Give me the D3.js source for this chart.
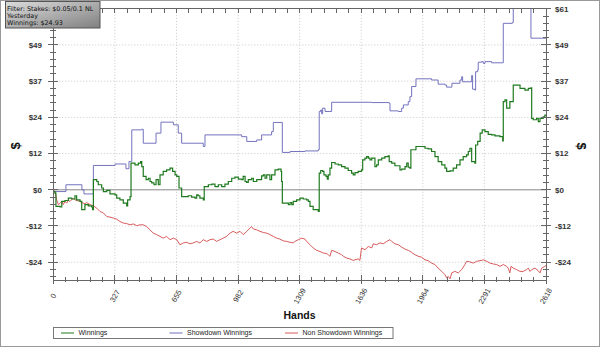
<!DOCTYPE html>
<html><head><meta charset="utf-8">
<script src="https://cdn.jsdelivr.net/npm/d3@7/dist/d3.min.js"></script>
<style>html,body{margin:0;padding:0;background:#fff;}svg{display:block;}</style>
</head><body>
<svg id="c" width="600" height="347"></svg>
<script>
// ---- data: [hand, $] ----
const winnings = [[0,-0.6],[9,-1.1],[14,-5.6],[36,-5.8],[45,-3.9],[62,-3.6],[80,-2.8],[98,-3.1],[115,-2.0],[124,-3.4],[142,-3.9],[151,-6.7],[168,-5.0],[186,-5.4],[204,-5.8],[209,-6.7],[213,3.4],[231,2.8],[239,1.7],[257,0.6],[266,-0.6],[284,-0.2],[301,-1.4],[328,-1.7],[337,-2.8],[354,-3.4],[372,-4.5],[390,-5.4],[395,-3.4],[408,-2.3],[413,9.0],[434,8.4],[452,9.0],[464,9.5],[470,7.8],[478,4.5],[493,3.4],[505,3.9],[514,2.8],[523,2.3],[535,1.7],[546,3.4],[558,1.7],[567,5.0],[584,6.2],[602,6.7],[620,7.3],[634,6.2],[647,5.0],[656,4.5],[668,0.6],[682,-2.3],[717,-2.0],[735,-2.5],[753,-2.8],[762,-1.7],[770,-2.0],[779,-2.8],[797,-3.4],[802,1.1],[824,1.7],[842,1.9],[859,1.1],[877,1.7],[895,1.1],[912,1.9],[930,2.8],[948,3.9],[965,4.3],[983,3.6],[1001,3.4],[1009,4.5],[1019,2.8],[1027,2.5],[1036,3.4],[1054,3.9],[1063,2.8],[1081,3.4],[1098,3.4],[1107,4.7],[1116,5.0],[1125,3.9],[1134,5.0],[1151,3.4],[1160,5.0],[1178,6.7],[1195,7.0],[1210,6.2],[1213,2.8],[1217,-4.5],[1231,-4.5],[1249,-5.0],[1258,-4.3],[1267,-5.0],[1275,-3.9],[1293,-3.4],[1311,-2.8],[1328,-3.1],[1346,-3.4],[1355,-3.9],[1364,-5.6],[1381,-6.7],[1408,-7.3],[1413,5.6],[1421,6.5],[1431,6.2],[1438,5.0],[1449,4.5],[1456,3.6],[1461,5.0],[1470,7.3],[1479,9.2],[1497,8.7],[1514,8.4],[1532,7.8],[1550,7.3],[1567,6.5],[1585,5.6],[1594,5.0],[1603,5.8],[1620,6.2],[1638,6.7],[1644,10.1],[1656,10.7],[1665,11.2],[1674,10.7],[1683,10.1],[1692,10.7],[1709,7.8],[1718,8.4],[1727,10.1],[1745,10.7],[1762,11.2],[1780,11.4],[1785,9.5],[1798,9.0],[1815,8.1],[1842,6.7],[1851,7.0],[1869,7.8],[1878,9.0],[1886,7.6],[1895,7.3],[1900,13.5],[1927,14.6],[1957,14.6],[1975,14.0],[1992,13.8],[2010,12.9],[2028,11.2],[2045,9.5],[2064,8.4],[2081,7.3],[2090,6.2],[2108,6.4],[2125,7.3],[2143,8.4],[2161,10.1],[2178,11.2],[2196,11.8],[2205,12.9],[2214,14.0],[2223,9.5],[2240,9.0],[2244,15.1],[2255,16.3],[2268,19.1],[2279,20.2],[2294,19.6],[2311,18.7],[2329,18.5],[2347,18.2],[2373,17.9],[2388,16.5],[2391,29.7],[2400,30.3],[2409,27.5],[2421,27.5],[2426,29.7],[2444,35.3],[2462,35.3],[2480,34.2],[2506,33.6],[2524,34.2],[2538,34.4],[2542,24.1],[2550,23.6],[2568,24.1],[2577,23.0],[2586,24.1],[2603,24.6],[2612,25.2],[2618,24.93]];
const showdownWinnings = [[0,-0.6],[67,1.7],[152,0],[163,-1.4],[213,8.2],[328,8.7],[386,7.1],[402,9.5],[417,20.2],[470,20.4],[478,15.7],[546,19.1],[572,22.8],[638,21.9],[664,19.1],[682,15.7],[797,14.6],[806,18.5],[1001,17.9],[1028,16.3],[1081,16.8],[1107,18.5],[1160,19.6],[1169,22.7],[1217,12.6],[1258,12.9],[1337,13.1],[1408,13.5],[1413,26.4],[1421,26.9],[1426,25.6],[1431,27.5],[1444,26.4],[1479,29.5],[1692,29.4],[1784,29.2],[1789,26.6],[1833,26.4],[1851,27.5],[1860,28.6],[1886,29.7],[1895,31.4],[1904,34.8],[1927,37.4],[2010,37.0],[2045,35.6],[2081,35.3],[2090,34.6],[2118,35.9],[2161,37.0],[2170,38.1],[2175,36.4],[2214,36.4],[2223,38.5],[2228,33.9],[2240,33.6],[2244,39.8],[2255,40.4],[2258,43.0],[2276,43.2],[2285,42.6],[2294,43.2],[2329,42.8],[2388,42.8],[2391,56.1],[2439,56.4],[2444,64.0],[2538,51.1],[2618,51.1]];
const nonShowdownWinnings = [[0,0],[9,-0.6],[18,-3.4],[27,-5.0],[36,-4.5],[45,-3.9],[53,-5.0],[62,-3.9],[71,-4.5],[80,-3.6],[89,-3.9],[106,-2.8],[115,-3.4],[124,-3.6],[142,-3.9],[151,-4.3],[168,-4.7],[177,-4.3],[195,-5.0],[213,-5.4],[231,-6.2],[248,-7.3],[266,-7.8],[284,-9.0],[301,-9.2],[319,-9.5],[337,-9.9],[354,-10.7],[372,-11.2],[390,-11.4],[408,-11.8],[425,-11.5],[443,-12.1],[461,-11.8],[478,-11.8],[496,-12.4],[514,-13.5],[531,-14.6],[549,-15.1],[567,-15.7],[584,-16.3],[602,-15.7],[620,-16.8],[638,-16.3],[656,-16.8],[673,-18.5],[691,-17.9],[709,-17.7],[726,-18.2],[744,-17.9],[762,-17.4],[779,-17.9],[797,-16.8],[815,-17.4],[833,-16.8],[850,-16.6],[868,-17.4],[886,-16.8],[903,-16.3],[921,-15.7],[939,-14.6],[956,-14.0],[974,-14.6],[992,-14.0],[1009,-15.1],[1028,-14.0],[1045,-12.9],[1054,-12.4],[1063,-13.2],[1081,-13.5],[1098,-14.0],[1116,-14.4],[1134,-14.6],[1151,-15.1],[1169,-15.7],[1187,-16.3],[1204,-16.6],[1222,-17.2],[1240,-17.4],[1258,-17.7],[1275,-17.9],[1284,-17.4],[1302,-16.8],[1320,-16.3],[1337,-16.6],[1346,-17.4],[1364,-18.5],[1381,-19.6],[1399,-20.4],[1417,-20.8],[1435,-21.3],[1453,-21.5],[1461,-21.9],[1470,-22.4],[1479,-20.4],[1497,-20.8],[1514,-21.3],[1532,-21.9],[1541,-22.4],[1559,-23.0],[1576,-23.3],[1594,-23.8],[1603,-23.6],[1620,-23.3],[1629,-23.8],[1638,-19.6],[1656,-20.2],[1674,-19.1],[1692,-19.6],[1700,-18.2],[1718,-18.5],[1736,-17.9],[1753,-18.2],[1771,-17.4],[1789,-16.8],[1798,-17.4],[1815,-18.2],[1833,-18.5],[1851,-19.3],[1869,-20.0],[1886,-20.4],[1904,-21.1],[1922,-21.9],[1939,-22.4],[1957,-22.7],[1975,-23.6],[1992,-23.9],[2010,-24.7],[2028,-25.2],[2045,-26.4],[2064,-27.5],[2081,-28.6],[2090,-29.7],[2099,-29.2],[2108,-30.0],[2117,-28.0],[2134,-27.5],[2152,-28.0],[2170,-26.9],[2187,-25.2],[2196,-24.1],[2214,-24.3],[2232,-24.7],[2249,-24.1],[2267,-23.9],[2285,-23.6],[2303,-24.1],[2320,-24.7],[2338,-25.0],[2356,-25.2],[2373,-25.8],[2391,-25.2],[2409,-25.8],[2417,-26.4],[2426,-28.0],[2432,-25.8],[2444,-26.4],[2462,-26.9],[2480,-27.5],[2497,-27.5],[2515,-26.9],[2524,-26.4],[2533,-27.5],[2542,-26.9],[2560,-26.4],[2577,-27.3],[2586,-28.0],[2595,-26.4],[2612,-25.8],[2618,-25.5]];

const xTickValues = [0, 327.25, 654.5, 981.75, 1309, 1636.25, 1963.5, 2290.75, 2618];
const xTickLabels = ["0","327","655","982","1309","1636","1964","2291","2618"];
const yTickValues = [-24.4, -12.2, 0, 12.2, 24.4, 36.6, 48.8, 61];
const yTickLabels = ["-$24","-$12","$0","$12","$24","$37","$49","$61"];
const seriesNames = ["Winnings","Showdown Winnings","Non Showdown Winnings"];
const seriesColors = ["#1f7a1f","#7373bf","#d95b5b"];
const infoLines = ["Filter: Stakes: $0.05/0.1 NL","Yesterday","Winnings: $24.93"];

// ---- layout ----
const svg = d3.select("#c");
const L = 53.3, R = 546, T = 8.8, B = 280;
const x = d3.scaleLinear().domain([0, 2618]).range([L, R]);
const y = d3.scaleLinear().domain([-30.4, 61]).range([B, T]);
const axisCol = "#666";
const font = "'Liberation Sans', Arial, sans-serif";

// outer frame
svg.append("rect").attr("x",0.5).attr("y",0.5).attr("width",599).attr("height",346)
  .attr("fill","#fff").attr("stroke","#999");

// grid
const g = svg.append("g");
g.selectAll(".vg").data(xTickValues.slice(1,-1)).join("line")
  .attr("x1",d=>x(d)).attr("x2",d=>x(d)).attr("y1",T).attr("y2",B)
  .attr("stroke","#c8c8c8").attr("stroke-dasharray","1,2");
g.selectAll(".hg").data(yTickValues.filter(v=>v!==0 && v!==61)).join("line")
  .attr("x1",L).attr("x2",R).attr("y1",d=>y(d)).attr("y2",d=>y(d))
  .attr("stroke","#c8c8c8").attr("stroke-dasharray","1,2");
g.append("line").attr("x1",L).attr("x2",R).attr("y1",y(0)).attr("y2",y(0))
  .attr("stroke","#888").attr("stroke-width",1);

// clip
svg.append("clipPath").attr("id","pc").append("rect")
  .attr("x",L).attr("y",T).attr("width",R-L).attr("height",B-T);

const stepLine = d3.line().x(d=>x(d[0])).y(d=>y(d[1])).curve(d3.curveStepAfter);
const linLine = d3.line().x(d=>x(d[0])).y(d=>y(d[1])).curve(d3.curveLinear);
const lg = svg.append("g").attr("clip-path","url(#pc)");
lg.append("path").datum(nonShowdownWinnings).attr("d",linLine).attr("fill","none")
  .attr("stroke",seriesColors[2]).attr("stroke-width",1);
lg.append("path").datum(showdownWinnings).attr("d",stepLine).attr("fill","none")
  .attr("stroke",seriesColors[1]).attr("stroke-width",1);
lg.append("path").datum(winnings).attr("d",stepLine).attr("fill","none")
  .attr("stroke",seriesColors[0]).attr("stroke-width",1.2);

// axes frame lines
const ax = svg.append("g").attr("stroke",axisCol).attr("stroke-width",1).attr("shape-rendering","crispEdges");
ax.append("line").attr("x1",L).attr("x2",L).attr("y1",T).attr("y2",B);
ax.append("line").attr("x1",R).attr("x2",R).attr("y1",T).attr("y2",B);
ax.append("line").attr("x1",L).attr("x2",R).attr("y1",B).attr("y2",B);
ax.append("line").attr("x1",L).attr("x2",R).attr("y1",T).attr("y2",T);

// minor ticks
const xMinor = d3.range(0, 41).map(i => i * 2618 / 40);
const yMinor = d3.range(-12, 26).map(i => i * 2.44);
ax.selectAll(".xb").data(xMinor).join("line")
  .attr("x1",d=>x(d)).attr("x2",d=>x(d)).attr("y1",(d,i)=>i%5===0?B-5:B-3).attr("y2",(d,i)=>i%5===0?B+4:B+2);
ax.selectAll(".xt").data(xMinor).join("line")
  .attr("x1",d=>x(d)).attr("x2",d=>x(d)).attr("y1",T).attr("y2",T+4);
ax.selectAll(".yl").data(yMinor).join("line")
  .attr("y1",d=>y(d)).attr("y2",d=>y(d)).attr("x1",(d,i)=>(i%5===2)?L-5:L-3).attr("x2",(d,i)=>(i%5===2)?L+5:L+3);
ax.selectAll(".yr").data(yMinor).join("line")
  .attr("y1",d=>y(d)).attr("y2",d=>y(d)).attr("x1",(d,i)=>(i%5===2)?R-5:R-3).attr("x2",(d,i)=>(i%5===2)?R+5:R+3);

// y labels (left side: top label hidden behind info box in reference)
svg.selectAll(".ylab").data(yTickValues.slice(0,-1)).join("text")
  .attr("x",42).attr("y",d=>y(d)).attr("dy","0.35em").attr("text-anchor","end")
  .attr("font-family",font).attr("font-size",8).attr("font-weight","bold").attr("fill","#333")
  .text((d,i)=>yTickLabels[i]);
svg.selectAll(".yrlab").data(yTickValues).join("text")
  .attr("x",555).attr("y",d=>y(d)).attr("dy","0.35em").attr("text-anchor","start")
  .attr("font-family",font).attr("font-size",8).attr("font-weight","bold").attr("fill","#333")
  .text((d,i)=>yTickLabels[i]);

// x labels
svg.selectAll(".xlab").data(xTickValues).join("text")
  .attr("transform",d=>`translate(${x(d)},296) rotate(-60)`)
  .attr("dy","0.35em").attr("text-anchor","middle")
  .attr("font-family",font).attr("font-size",7.5).attr("fill","#333")
  .text((d,i)=>xTickLabels[i]);

// axis titles
svg.append("text").attr("transform","translate(15,146) rotate(-90)").attr("text-anchor","middle")
  .attr("dy","0.35em").attr("font-family",font).attr("font-size",13).attr("font-weight","bold").attr("fill","#111").text("$");
svg.append("text").attr("transform","translate(582,146) rotate(90)").attr("text-anchor","middle")
  .attr("dy","0.35em").attr("font-family",font).attr("font-size",13).attr("font-weight","bold").attr("fill","#111").text("$");
svg.append("text").attr("x",299.5).attr("y",319).attr("text-anchor","middle")
  .attr("font-family",font).attr("font-size",10.5).attr("font-weight","bold").attr("fill","#111").text("Hands");

// legend
const leg = svg.append("g");
leg.append("rect").attr("x",53.5).attr("y",327.5).attr("width",339.5).attr("height",11)
  .attr("fill","#fff").attr("stroke","#777");
const legX = [61, 169.5, 285];
seriesNames.forEach((n,i)=>{
  leg.append("line").attr("x1",legX[i]).attr("x2",legX[i]+13).attr("y1",333).attr("y2",333)
    .attr("stroke",seriesColors[i]).attr("stroke-width",1);
  leg.append("text").attr("x",legX[i]+17.5).attr("y",333).attr("dy","0.35em")
    .attr("font-family",font).attr("font-size",7).attr("fill","#222").text(n);
});

// info box
const defs = svg.append("defs");
const grad = defs.append("linearGradient").attr("id","ig").attr("x1","0").attr("y1","0").attr("x2","1").attr("y2","1");
grad.append("stop").attr("offset","0").attr("stop-color","#dcdcdc");
grad.append("stop").attr("offset","1").attr("stop-color","#808080");
svg.append("rect").attr("x",5.5).attr("y",1.5).attr("width",94.5).attr("height",26.5)
  .attr("fill","url(#ig)").attr("stroke","#555");
infoLines.forEach((t,i)=>{
  svg.append("text").attr("x",7).attr("y",8.5+i*7.3).attr("dy","0.35em")
    .attr("font-family","'DejaVu Sans', Verdana, sans-serif").attr("font-size",6.4).attr("fill","#111").text(t);
});
</script>
</body></html>
